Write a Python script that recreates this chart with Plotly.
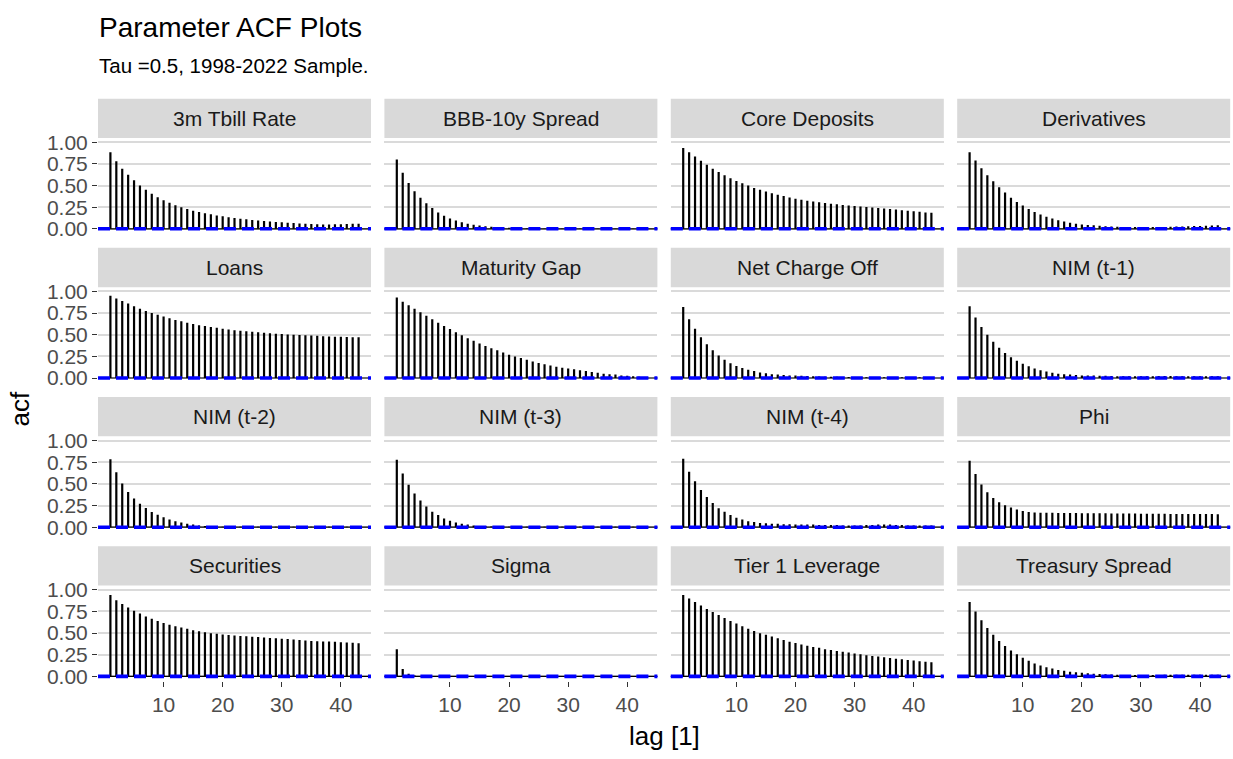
import plotly.graph_objects as go

# ---------------- data ----------------
panel_names = ["3m Tbill Rate", "BBB-10y Spread", "Core Deposits", "Derivatives",
               "Loans", "Maturity Gap", "Net Charge Off", "NIM (t-1)",
               "NIM (t-2)", "NIM (t-3)", "NIM (t-4)", "Phi",
               "Securities", "Sigma", "Tier 1 Leverage", "Treasury Spread"]

lags = list(range(1, 44))

acf_tbill = [0.885, 0.78, 0.695, 0.625, 0.56, 0.50, 0.45, 0.405, 0.365, 0.33, 0.30, 0.272, 0.248, 0.228,
             0.21, 0.194, 0.18, 0.167, 0.155, 0.144, 0.134, 0.125, 0.117, 0.11, 0.103, 0.097, 0.091, 0.085,
             0.08, 0.075, 0.07, 0.066, 0.062, 0.058, 0.055, 0.052, 0.05, 0.05, 0.052, 0.054, 0.056, 0.058, 0.058]
acf_bbb = [0.80, 0.648, 0.53, 0.435, 0.36, 0.295, 0.24, 0.19, 0.15, 0.12, 0.095, 0.075, 0.06, 0.047,
           0.037, 0.03, 0.024, 0.02, 0.016, 0.013, 0.011, 0.01, 0.008, 0.007, 0.006, 0.005, 0.005, 0.005,
           0.005, 0.005, 0.005, 0.005, 0.005, 0.005, 0.005, 0.005, 0.005, 0.005, 0.005, 0.005, 0.005, 0.005, 0.005]
acf_core = [0.935, 0.885, 0.836, 0.786, 0.74, 0.695, 0.656, 0.618, 0.584, 0.553, 0.527, 0.50, 0.473, 0.45,
            0.431, 0.412, 0.393, 0.378, 0.363, 0.347, 0.335, 0.325, 0.315, 0.306, 0.298, 0.29, 0.283, 0.276,
            0.27, 0.264, 0.258, 0.252, 0.246, 0.24, 0.234, 0.228, 0.222, 0.216, 0.21, 0.204, 0.198, 0.19, 0.185]
acf_deriv = [0.885, 0.79, 0.70, 0.62, 0.55, 0.48, 0.42, 0.36, 0.31, 0.27, 0.23, 0.195, 0.165, 0.14,
             0.12, 0.10, 0.085, 0.07, 0.06, 0.05, 0.045, 0.04, 0.035, 0.03, 0.028, 0.025, 0.022, 0.02,
             0.02, 0.02, 0.02, 0.02, 0.021, 0.022, 0.024, 0.026, 0.028, 0.03, 0.032, 0.034, 0.036, 0.038, 0.04]
acf_loans = [0.95, 0.92, 0.89, 0.86, 0.83, 0.80, 0.775, 0.75, 0.73, 0.71, 0.69, 0.67, 0.655, 0.64,
             0.625, 0.61, 0.60, 0.59, 0.58, 0.57, 0.56, 0.553, 0.546, 0.54, 0.534, 0.528, 0.522, 0.517,
             0.512, 0.508, 0.504, 0.50, 0.496, 0.493, 0.49, 0.487, 0.484, 0.481, 0.478, 0.476, 0.474, 0.472, 0.47]
acf_matgap = [0.93, 0.88, 0.84, 0.80, 0.76, 0.72, 0.68, 0.64, 0.60, 0.565, 0.53, 0.495, 0.46, 0.43,
              0.40, 0.37, 0.345, 0.32, 0.295, 0.27, 0.25, 0.23, 0.21, 0.19, 0.175, 0.16, 0.145, 0.13,
              0.12, 0.11, 0.10, 0.09, 0.08, 0.07, 0.06, 0.05, 0.045, 0.04, 0.03, 0.025, 0.02, 0.015, 0.01]
acf_nco = [0.82, 0.68, 0.57, 0.47, 0.39, 0.32, 0.26, 0.21, 0.17, 0.14, 0.115, 0.095, 0.08, 0.065,
           0.055, 0.045, 0.04, 0.035, 0.03, 0.028, 0.025, 0.022, 0.02, 0.018, 0.016, 0.015, 0.014, 0.013,
           0.012, 0.011, 0.01, 0.01, 0.01, 0.01, 0.01, 0.01, 0.01, 0.01, 0.01, 0.01, 0.01, 0.01, 0.01]
acf_nim1 = [0.83, 0.70, 0.59, 0.50, 0.42, 0.35, 0.29, 0.24, 0.20, 0.165, 0.135, 0.11, 0.09, 0.075,
            0.06, 0.05, 0.045, 0.04, 0.035, 0.03, 0.03, 0.028, 0.025, 0.025, 0.022, 0.02, 0.02, 0.02,
            0.02, 0.02, 0.02, 0.02, 0.022, 0.022, 0.022, 0.02, 0.02, 0.02, 0.02, 0.02, 0.02, 0.02, 0.02]
acf_nim2 = [0.785, 0.634, 0.506, 0.408, 0.332, 0.272, 0.223, 0.177, 0.143, 0.115, 0.09, 0.07, 0.055, 0.04,
            0.03, 0.02, 0.015, 0.01, 0.008, 0.006, 0.005, 0.005, 0.005, 0.005, 0.005, 0.005, 0.005, 0.005,
            0.005, 0.005, 0.005, 0.005, 0.005, 0.005, 0.005, 0.005, 0.005, 0.005, 0.005, 0.005, 0.005, 0.005, 0.005]
acf_nim3 = [0.78, 0.62, 0.49, 0.39, 0.31, 0.24, 0.18, 0.14, 0.10, 0.075, 0.055, 0.04, 0.03, 0.02,
            0.015, 0.01, 0.008, 0.006, 0.005, 0.005, 0.005, 0.005, 0.005, 0.005, 0.005, 0.005, 0.005, 0.005,
            0.005, 0.005, 0.005, 0.005, 0.005, 0.005, 0.005, 0.005, 0.005, 0.005, 0.005, 0.005, 0.005, 0.005, 0.005]
acf_nim4 = [0.79, 0.64, 0.53, 0.43, 0.35, 0.28, 0.22, 0.18, 0.14, 0.11, 0.09, 0.07, 0.06, 0.05,
            0.045, 0.04, 0.04, 0.035, 0.035, 0.03, 0.03, 0.03, 0.03, 0.025, 0.025, 0.025, 0.025, 0.02,
            0.02, 0.02, 0.02, 0.025, 0.025, 0.03, 0.03, 0.03, 0.025, 0.025, 0.02, 0.02, 0.02, 0.02, 0.02]
acf_phi = [0.768, 0.616, 0.494, 0.403, 0.338, 0.289, 0.255, 0.228, 0.205, 0.186, 0.175, 0.17, 0.168, 0.167,
           0.166, 0.165, 0.165, 0.164, 0.163, 0.162, 0.162, 0.161, 0.16, 0.16, 0.159, 0.158, 0.158, 0.157,
           0.157, 0.156, 0.156, 0.155, 0.155, 0.155, 0.154, 0.154, 0.153, 0.153, 0.153, 0.152, 0.152, 0.152, 0.151]
acf_sec = [0.94, 0.88, 0.836, 0.795, 0.76, 0.727, 0.693, 0.667, 0.64, 0.617, 0.598, 0.58, 0.564, 0.55,
           0.534, 0.523, 0.511, 0.50, 0.492, 0.485, 0.479, 0.473, 0.468, 0.463, 0.458, 0.454, 0.45, 0.445,
           0.44, 0.436, 0.431, 0.426, 0.421, 0.416, 0.41, 0.407, 0.404, 0.402, 0.40, 0.396, 0.392, 0.388, 0.383]
acf_sigma = [0.314, 0.087, 0.03, 0.01, 0.005, 0.003, 0.002, 0.002, 0.002, 0.002, 0.002, 0.002, 0.002, 0.002,
             0.002, 0.002, 0.002, 0.002, 0.002, 0.002, 0.002, 0.002, 0.002, 0.002, 0.002, 0.002, 0.002, 0.002,
             0.002, 0.002, 0.002, 0.002, 0.002, 0.002, 0.002, 0.002, 0.002, 0.002, 0.002, 0.002, 0.002, 0.002, 0.002]
acf_tier1 = [0.94, 0.90, 0.86, 0.82, 0.78, 0.745, 0.71, 0.675, 0.64, 0.61, 0.58, 0.55, 0.525, 0.50,
             0.48, 0.46, 0.44, 0.42, 0.40, 0.385, 0.37, 0.355, 0.34, 0.33, 0.315, 0.305, 0.295, 0.285,
             0.275, 0.265, 0.255, 0.245, 0.237, 0.229, 0.221, 0.213, 0.205, 0.197, 0.19, 0.183, 0.176, 0.17, 0.165]
acf_tsy = [0.86, 0.75, 0.65, 0.56, 0.48, 0.41, 0.35, 0.30, 0.255, 0.215, 0.18, 0.15, 0.125, 0.105,
           0.09, 0.075, 0.065, 0.055, 0.048, 0.042, 0.036, 0.031, 0.027, 0.024, 0.021, 0.019, 0.017, 0.016,
           0.015, 0.015, 0.015, 0.016, 0.017, 0.018, 0.019, 0.02, 0.02, 0.02, 0.02, 0.02, 0.02, 0.02, 0.02]

acf_series = [acf_tbill, acf_bbb, acf_core, acf_deriv, acf_loans, acf_matgap, acf_nco, acf_nim1,
              acf_nim2, acf_nim3, acf_nim4, acf_phi, acf_sec, acf_sigma, acf_tier1, acf_tsy]

ci_bound = 0.008          # +/- confidence bound (very close to zero)
y_ticks = [0.0, 0.25, 0.5, 0.75, 1.0]
y_ticklabels = ["0.00", "0.25", "0.50", "0.75", "1.00"]
x_ticks = [10, 20, 30, 40]

# ---------------- layout geometry (pixels) ----------------
W, H = 1233, 759
col_left0, col_pitch, col_w = 98.0, 286.4, 273.0
row_bot0, row_pitch, row_h, strip_h = 230.4, 152.0, 97.0, 40.0

FONT = "Liberation Sans, Arial, Helvetica, sans-serif"

fig = go.Figure()
shapes = []
annotations = []

for i, (name, vals) in enumerate(zip(panel_names, acf_series)):
    r, c = divmod(i, 4)
    k = i + 1
    xa = "xaxis" if k == 1 else f"xaxis{k}"
    ya = "yaxis" if k == 1 else f"yaxis{k}"
    xr = "x" if k == 1 else f"x{k}"
    yr = "y" if k == 1 else f"y{k}"

    x0 = col_left0 + c * col_pitch
    x1 = x0 + col_w
    yb = row_bot0 + r * row_pitch
    yt = yb - row_h

    # bars (linerange from 0 to acf)
    xs, ys = [], []
    for lg, v in zip(lags, vals):
        xs += [lg, lg, None]
        ys += [0, v, None]
    fig.add_trace(go.Scatter(x=xs, y=ys, mode="lines", xaxis=xr, yaxis=yr,
                             line=dict(color="black", width=2.2), hoverinfo="skip",
                             showlegend=False))

    fig.layout[xa] = dict(domain=[x0 / W, x1 / W], range=[-1.1, 45.1], anchor=yr,
                          showgrid=False, zeroline=False, showline=False,
                          tickvals=x_ticks, ticks="outside" if r == 3 else "",
                          ticklen=5, tickwidth=1.2, tickcolor="#333333",
                          showticklabels=(r == 3),
                          tickfont=dict(family=FONT, size=21, color="#4D4D4D"))
    fig.layout[ya] = dict(domain=[1 - yb / H, 1 - yt / H], range=[-0.05, 1.05], anchor=xr,
                          showgrid=True, gridcolor="#DADADA", gridwidth=1.5,
                          zeroline=False, showline=False,
                          tickvals=y_ticks, ticktext=y_ticklabels,
                          ticks="outside" if c == 0 else "", ticklen=5, tickwidth=1.2,
                          tickcolor="#333333", showticklabels=(c == 0),
                          tickfont=dict(family=FONT, size=21, color="#4D4D4D"))

    # zero line and confidence bounds
    shapes.append(dict(type="line", xref=f"{xr} domain", yref=yr, x0=0, x1=1, y0=0, y1=0,
                       line=dict(color="black", width=1.2), layer="above"))
    for s in (1, -1):
        shapes.append(dict(type="line", xref=f"{xr} domain", yref=yr, x0=0, x1=1,
                           y0=s * ci_bound, y1=s * ci_bound,
                           line=dict(color="#0000FF", width=2.2, dash="12px,6px"), layer="above"))

    # strip
    shapes.append(dict(type="rect", xref="paper", yref="paper",
                       x0=x0 / W, x1=x1 / W, y0=1 - yt / H, y1=1 - (yt - strip_h) / H,
                       fillcolor="#D9D9D9", line=dict(width=0), layer="below"))
    annotations.append(dict(text=name, xref="paper", yref="paper",
                            x=(x0 + x1) / 2 / W, y=1 - (yt - strip_h / 2) / H,
                            xanchor="center", yanchor="middle", showarrow=False,
                            font=dict(family=FONT, size=21, color="#1A1A1A")))

# titles
annotations.append(dict(text="Parameter ACF Plots", xref="paper", yref="paper",
                        x=97 / W, y=1 - 21 / H, xanchor="left", yanchor="middle",
                        showarrow=False, font=dict(family=FONT, size=28, color="black")))
annotations.append(dict(text="Tau =0.5, 1998-2022 Sample.", xref="paper", yref="paper",
                        x=97 / W, y=1 - 60 / H, xanchor="left", yanchor="middle",
                        showarrow=False, font=dict(family=FONT, size=20.5, color="black")))
annotations.append(dict(text="lag [1]", xref="paper", yref="paper",
                        x=(98 + 1230) / 2 / W, y=1 - 743 / H, xanchor="center", yanchor="middle",
                        showarrow=False, font=dict(family=FONT, size=26, color="black")))
annotations.append(dict(text="acf", xref="paper", yref="paper",
                        x=20 / W, y=1 - 410 / H, xanchor="center", yanchor="middle", textangle=-90,
                        showarrow=False, font=dict(family=FONT, size=26, color="black")))

fig.update_layout(width=W, height=H, margin=dict(l=0, r=0, t=0, b=0),
                  paper_bgcolor="white", plot_bgcolor="white",
                  shapes=shapes, annotations=annotations, showlegend=False)

fig.write_html("out.html")
